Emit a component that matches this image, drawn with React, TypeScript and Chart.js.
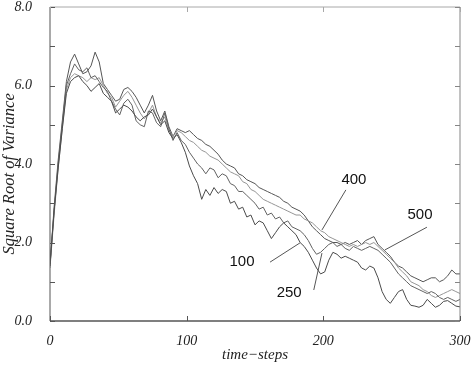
import React, { useEffect, useRef } from "react";
import { Chart, registerables } from "chart.js";

Chart.register(...registerables);

// time axis: every 3 steps from 0 to 300
const timeSteps: number[] = Array.from({ length: 101 }, (_, i) => i * 3);

const xTickLabels = [0, 100, 200, 300];
const yTickLabels = [0, 2, 4, 6, 8];
const yMinorTicks = [1, 3, 5, 7];

const seriesNames = ["100", "250", "400", "500"];

// population 100
const series100 = [
  1.45, 2.8, 3.9, 4.9, 5.8, 6.1, 6.2, 6.25, 6.1, 6.0,
  5.85, 5.95, 6.05, 5.8, 5.7, 5.6, 5.3, 5.4, 5.5, 5.45,
  5.35, 5.2, 5.1, 5.2, 5.25, 5.4, 5.2, 5.0, 5.1, 4.8,
  4.65, 4.75, 4.55,
  4.3, 3.95, 3.7, 3.5, 3.1, 3.35, 3.2, 3.4, 3.25, 3.35,
  3.3, 3.0, 3.05, 2.85, 2.9, 2.65, 2.7, 2.45, 2.55, 2.5,
  2.3, 2.1, 2.25, 2.4, 2.5, 2.4, 2.3, 2.2, 2.0, 1.9,
  1.75, 1.55, 1.35, 1.2, 1.25, 1.55, 1.75, 1.7, 1.6, 1.65,
  1.6, 1.55, 1.5, 1.35, 1.3, 1.4, 1.35, 1.1, 0.75, 0.55,
  0.45, 0.6, 0.75, 0.8, 0.55, 0.4, 0.38, 0.35, 0.4, 0.55,
  0.45, 0.35, 0.4, 0.5, 0.52, 0.45, 0.38, 0.36,
];

// population 250
const series250 = [
  1.4, 2.8, 4.0, 5.0, 6.0, 6.3, 6.55, 6.4, 6.35, 6.45,
  6.2, 6.25, 6.1, 5.95, 5.85, 5.6, 5.4, 5.25, 5.55, 5.65,
  5.5, 5.1, 5.0, 4.95, 5.35, 5.3, 5.05, 4.95, 5.3, 4.9,
  4.6, 4.8, 4.6,
  4.5, 4.3, 4.15, 4.0, 3.9, 3.75, 3.9, 3.85, 3.65, 3.75,
  3.7, 3.5, 3.45, 3.3, 3.3, 3.2, 3.1, 3.0, 2.85, 2.9,
  2.7, 2.75, 2.6, 2.65, 2.5, 2.55, 2.4, 2.35, 2.3, 2.2,
  2.05, 1.85, 1.7, 1.75, 1.85, 1.95, 2.0, 1.9, 1.95, 1.85,
  1.8, 1.9, 1.85, 1.8, 1.85, 1.9, 1.85, 1.8, 1.7, 1.6,
  1.5, 1.35, 1.2, 1.1, 1.0, 0.9, 0.85, 0.8, 0.75, 0.7,
  0.75, 0.7, 0.6, 0.55, 0.6, 0.55, 0.5, 0.55,
];

// population 400
const series400 = [
  1.35, 2.7, 3.9, 4.9, 5.9, 6.2, 6.3, 6.25, 6.2, 6.1,
  6.2, 6.15, 6.2, 6.0, 5.8, 5.7, 5.45, 5.6, 5.75, 5.85,
  5.7, 5.5, 5.3, 5.15, 5.3, 5.5, 5.2, 5.05, 5.2, 4.85,
  4.7, 4.85, 4.8,
  4.7, 4.6, 4.55, 4.45, 4.35, 4.3, 4.2, 4.15, 4.1, 4.0,
  3.9, 3.8, 3.75, 3.7, 3.55, 3.5, 3.35, 3.3, 3.2, 3.1,
  3.05, 3.0, 2.95, 2.9, 2.85, 2.8, 2.75, 2.7, 2.7, 2.6,
  2.55, 2.5, 2.4, 2.3, 2.25, 2.15, 2.1, 2.05, 2.0, 1.95,
  1.9, 1.95, 1.9, 1.95, 2.0, 1.95, 2.0, 1.9, 1.8, 1.7,
  1.6, 1.5, 1.35, 1.25, 1.15, 1.0, 0.95, 0.9, 0.8, 0.75,
  0.65, 0.6, 0.65, 0.7, 0.75, 0.8, 0.75, 0.7,
];

// population 500
const series500 = [
  1.4, 2.9, 4.1, 5.1, 6.1, 6.6, 6.8, 6.55, 6.3, 6.35,
  6.5, 6.85, 6.6, 6.05, 5.9, 5.75, 5.6, 5.65, 5.9, 5.95,
  5.85, 5.7, 5.5, 5.3, 5.5, 5.75, 5.35, 5.1, 5.35, 4.95,
  4.7, 4.9, 4.85,
  4.8, 4.85, 4.75, 4.65, 4.6, 4.5, 4.45, 4.35, 4.25, 4.1,
  4.0, 3.95, 3.9, 3.75, 3.7, 3.6, 3.55, 3.5, 3.4, 3.35,
  3.3, 3.25, 3.2, 3.15, 3.05, 3.0, 2.9, 2.85, 2.8, 2.7,
  2.55, 2.4, 2.3, 2.2, 2.1, 2.05, 2.0, 2.0, 1.95, 2.0,
  1.95, 2.0, 2.05, 1.95, 2.05, 2.1, 2.15, 1.95, 1.85, 1.75,
  1.65, 1.5, 1.4, 1.35, 1.25, 1.15, 1.1, 1.05, 1.0, 1.05,
  1.1, 1.1, 1.0, 1.05, 1.15, 1.3, 1.2, 1.2,
];

const seriesColors = ["#4a4a4a", "#626262", "#959595", "#555555"];

// curve labels (data coordinates) and their leader lines
const labelT = [140.5, 175, 222.4, 270.7];
const labelV = [1.5, 0.71, 3.59, 2.7];
const leaderFromT = [161, 193, 216.5, 275.8];
const leaderFromV = [1.5, 0.79, 3.34, 2.39];
const leaderToT = [182.9, 199, 199, 245];
const leaderToV = [1.99, 1.73, 2.32, 1.81];

const yTitle = "Square Root of Variance";
const xTitle = "time\u2212steps";

const serif = "'Liberation Serif', 'DejaVu Serif', serif";
const sans = "'Liberation Sans', Arial, sans-serif";

const framePlugin = {
  id: "frameAndLabels",
  afterDatasetsDraw(chart: any) {
    const { ctx, chartArea, scales } = chart;
    const { left, right, top, bottom } = chartArea;
    const x = scales.x;
    const y = scales.y;
    ctx.save();
    ctx.lineWidth = 1;
    const line = (x1: number, y1: number, x2: number, y2: number, c: string) => {
      ctx.strokeStyle = c;
      ctx.beginPath();
      ctx.moveTo(x1, y1);
      ctx.lineTo(x2, y2);
      ctx.stroke();
    };
    // frame
    line(left, top, right, top, "#a8a8a8");
    line(right, top, right, bottom, "#858585");
    line(left, top, left, bottom, "#555");
    ctx.lineWidth = 1.5;
    line(left, bottom, right, bottom, "#555");
    ctx.lineWidth = 1;
    // inward ticks
    [...yTickLabels, ...yMinorTicks].forEach((v) => {
      const py = Math.round(y.getPixelForValue(v)) + 0.5;
      line(left, py, left + 5, py, "#555");
      line(right, py, right - 5, py, "#858585");
    });
    xTickLabels.forEach((v) => {
      const px = Math.round(x.getPixelForValue(v)) + 0.5;
      line(px, bottom, px, bottom - 5, "#555");
      line(px, top, px, top + 5, "#a8a8a8");
    });
    // y-axis title
    ctx.save();
    ctx.font = `italic 16.5px ${serif}`;
    ctx.fillStyle = "#222";
    ctx.textAlign = "center";
    ctx.textBaseline = "middle";
    ctx.translate(10, y.getPixelForValue(3.75));
    ctx.rotate(-Math.PI / 2);
    ctx.fillText(yTitle, 0, 0);
    ctx.restore();
    // curve labels
    ctx.font = `15px ${sans}`;
    ctx.fillStyle = "#111";
    ctx.textAlign = "center";
    ctx.textBaseline = "middle";
    seriesNames.forEach((name, i) => {
      ctx.fillText(name, x.getPixelForValue(labelT[i]), y.getPixelForValue(labelV[i]));
      line(
        x.getPixelForValue(leaderFromT[i]),
        y.getPixelForValue(leaderFromV[i]),
        x.getPixelForValue(leaderToT[i]),
        y.getPixelForValue(leaderToV[i]),
        "#555"
      );
    });
    ctx.restore();
  },
};

export default function App() {
  const ref = useRef<HTMLCanvasElement | null>(null);
  useEffect(() => {
    if (!ref.current) return;
    const allSeries = [series100, series250, series400, series500];
    const chart = new Chart(ref.current, {
      type: "line",
      data: {
        datasets: allSeries.map((s, i) => ({
          label: seriesNames[i],
          data: s.map((v, j) => ({ x: timeSteps[j], y: v })),
          borderColor: seriesColors[i],
          borderWidth: 1,
          pointRadius: 0,
          tension: 0,
          fill: false,
        })),
      },
      options: {
        animation: false,
        responsive: false,
        devicePixelRatio: 1,
        layout: { padding: { top: 7, right: 14, left: 0, bottom: 0 }, autoPadding: false },
        plugins: { legend: { display: false }, tooltip: { enabled: false }, title: { display: false } },
        scales: {
          x: {
            type: "linear",
            min: 0,
            max: 300,
            grid: { display: false },
            border: { display: false },
            afterFit: (s: any) => {
              s.height = 44;
              s.paddingLeft = 0;
              s.paddingRight = 0;
              s.paddingTop = 0;
              s.paddingBottom = 0;
            },
            afterBuildTicks: (s: any) => {
              s.ticks = xTickLabels.map((v) => ({ value: v }));
            },
            ticks: {
              color: "#222",
              padding: 4,
              maxRotation: 0,
              autoSkip: false,
              font: { family: serif, size: 14, style: "italic" },
              callback: (v: any) => String(v),
            },
            title: {
              display: true,
              text: xTitle,
              color: "#222",
              padding: { top: 1, bottom: 1 },
              font: { family: serif, size: 15, style: "italic" },
            },
          },
          y: {
            type: "linear",
            min: 0,
            max: 8,
            grid: { display: false },
            border: { display: false },
            afterFit: (s: any) => {
              s.width = 50;
              s.paddingLeft = 0;
              s.paddingRight = 0;
              s.paddingTop = 0;
              s.paddingBottom = 0;
            },
            afterBuildTicks: (s: any) => {
              s.ticks = yTickLabels.map((v) => ({ value: v }));
            },
            ticks: {
              color: "#222",
              padding: 10,
              font: { family: serif, size: 14, style: "italic" },
              callback: (v: any) => Number(v).toFixed(1),
            },
            title: { display: false },
          },
        },
      },
      plugins: [framePlugin],
    });
    return () => chart.destroy();
  }, []);
  return (
    <div style={{ position: "absolute", left: 0, top: 0, width: 474, height: 365, background: "#fff" }}>
      <canvas ref={ref} width={474} height={365} />
    </div>
  );
}
